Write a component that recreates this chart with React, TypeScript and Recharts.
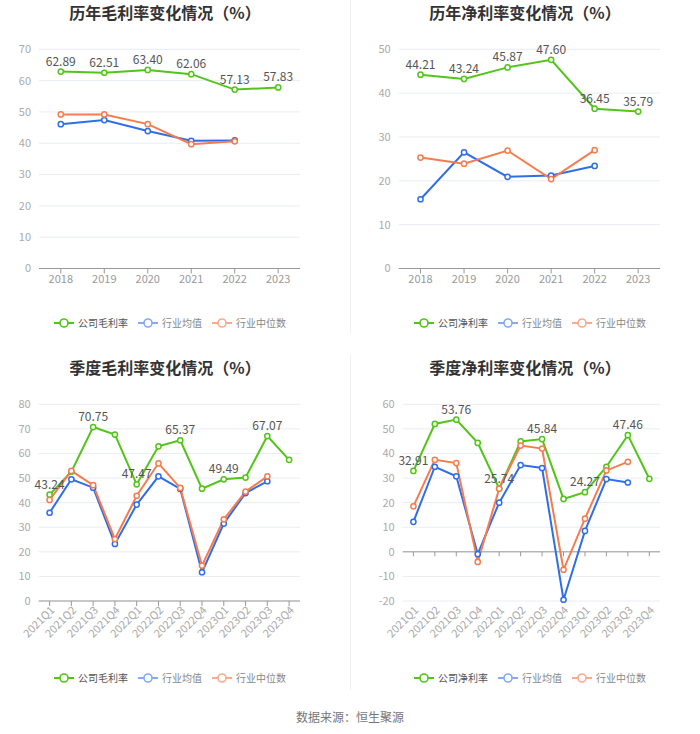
import React from 'react';
import { LineChart, Line, XAxis, YAxis, CartesianGrid, ReferenceLine, LabelList } from 'recharts';

const years = ['2018', '2019', '2020', '2021', '2022', '2023'];
const yearGrossCompany = [62.89, 62.51, 63.4, 62.06, 57.13, 57.83];
const yearGrossAvg = [46.1, 47.4, 43.9, 40.8, 40.9, null];
const yearGrossMedian = [49.2, 49.2, 46.1, 39.7, 40.6, null];

const yearNetCompany = [44.21, 43.24, 45.87, 47.6, 36.45, 35.79];
const yearNetAvg = [15.8, 26.5, 20.9, 21.2, 23.4, null];
const yearNetMedian = [25.3, 23.9, 26.9, 20.4, 27.0, null];

const quarters = ['2021Q1', '2021Q2', '2021Q3', '2021Q4', '2022Q1', '2022Q2', '2022Q3', '2022Q4', '2023Q1', '2023Q2', '2023Q3', '2023Q4'];
const qGrossCompany = [43.24, 52.6, 70.75, 67.7, 47.47, 62.9, 65.37, 45.7, 49.49, 50.2, 67.07, 57.4];
const qGrossAvg = [35.9, 49.5, 46.1, 23.2, 39.2, 50.7, 45.6, 11.7, 31.5, 43.9, 48.7, null];
const qGrossMedian = [41.1, 52.9, 47.1, 25.2, 42.8, 56.0, 46.0, 14.4, 33.2, 44.5, 50.7, null];

const qNetCompany = [32.91, 52.0, 53.76, 44.3, 25.74, 44.9, 45.84, 21.5, 24.27, 34.6, 47.46, 29.7];
const qNetAvg = [12.2, 34.6, 30.7, -0.9, 20.0, 35.3, 34.1, -19.5, 8.5, 29.6, 28.2, null];
const qNetMedian = [18.5, 37.4, 36.1, -4.1, 25.7, 43.2, 42.0, -7.3, 13.5, 33.1, 36.6, null];

const ticksYearGross = [0, 10, 20, 30, 40, 50, 60, 70];
const ticksYearNet = [0, 10, 20, 30, 40, 50];
const ticksQGross = [0, 10, 20, 30, 40, 50, 60, 70, 80];
const ticksQNet = [-20, -10, 0, 10, 20, 30, 40, 50, 60];

const GREEN = '#52C41A';
const BLUE = '#2F6EE8';
const ORANGE = '#F77C4D';
const BLUE_LIGHT = '#85A9F4';
const ORANGE_LIGHT = '#F9AA8C';
const FONT = '"Noto Sans CJK SC", "Noto Sans", sans-serif';

function buildRows(cats: string[], company: (number | null)[], avg: (number | null)[], median: (number | null)[], every: number) {
  return cats.map((c, i) => ({
    name: c,
    company: company[i],
    avg: avg[i],
    median: median[i],
    companyLabel: i % every === 0 ? company[i] : null,
  }));
}

const fmt = (v: any) => (v == null || v === '' ? '' : Number(v).toFixed(2));

const RotTick = (props: any) => {
  const { x, y, payload } = props;
  return (
    <text x={x} y={y} transform={`rotate(-45 ${x} ${y})`} textAnchor="end" fontSize={11} fill="#aaa" dy={6} dx={2}>
      {payload.value}
    </text>
  );
};

function LegendIcon({ color }: { color: string }) {
  return (
    <svg width={20} height={10} style={{ display: 'block' }}>
      <line x1={0} y1={5} x2={20} y2={5} stroke={color} strokeWidth={2} />
      <circle cx={10} cy={5} r={4} fill="#fff" stroke={color} strokeWidth={1.6} />
    </svg>
  );
}

function Legend({ left, width, top, companyName }: { left: number; width: number; top: number; companyName: string }) {
  const items = [
    { name: companyName, color: GREEN, text: '#555' },
    { name: '行业均值', color: BLUE_LIGHT, text: '#888' },
    { name: '行业中位数', color: ORANGE_LIGHT, text: '#888' },
  ];
  return (
    <div style={{ position: 'absolute', left, width, top, height: 14, display: 'flex', justifyContent: 'center', alignItems: 'center', gap: 10 }}>
      {items.map((it) => (
        <div key={it.name} style={{ display: 'flex', alignItems: 'center', gap: 4 }}>
          <LegendIcon color={it.color} />
          <span style={{ fontSize: 10, color: it.text, lineHeight: '14px', whiteSpace: 'nowrap' }}>{it.name}</span>
        </div>
      ))}
    </div>
  );
}

type PanelProps = {
  left: number;
  top: number;
  width: number;
  height: number;
  rows: any[];
  domain: [number, number];
  ticks: number[];
  yAxisWidth: number;
  marginRight: number;
  marginTop: number;
  marginBottom: number;
  xAxisHeight: number;
  pad: number;
  rotate?: boolean;
  zeroAxis?: boolean;
  cats: string[];
};

function Panel(p: PanelProps) {
  return (
    <div style={{ position: 'absolute', left: p.left, top: p.top }}>
      <LineChart
        width={p.width}
        height={p.height}
        data={p.rows}
        margin={{ top: p.marginTop, right: p.marginRight, left: 0, bottom: p.marginBottom }}
      >
        <CartesianGrid vertical={false} stroke="#E8ECF4" strokeWidth={1} />
        <XAxis
          dataKey="name"
          height={p.xAxisHeight}
          padding={{ left: p.pad, right: p.pad }}
          interval={0}
          axisLine={p.zeroAxis ? false : { stroke: '#999' }}
          tickLine={p.zeroAxis ? false : { stroke: '#999' }}
          tickSize={5}
          tick={p.rotate ? <RotTick /> : { fontSize: 11, fill: '#999' }}
        />
        <YAxis
          width={p.yAxisWidth}
          domain={p.domain}
          ticks={p.ticks}
          interval={0}
          axisLine={false}
          tickLine={false}
          tick={{ fontSize: 11, fill: '#aaa' }}
        />
        {p.zeroAxis && <ReferenceLine y={0} stroke="#999" strokeWidth={1} />}
        {p.zeroAxis &&
          p.cats.map((c) => (
            <ReferenceLine
              key={c}
              segment={[
                { x: c, y: 0 },
                { x: c, y: -1.8 },
              ]}
              stroke="#999"
              strokeWidth={1}
            />
          ))}
        <Line
          type="linear"
          dataKey="company"
          stroke={GREEN}
          strokeWidth={2}
          dot={{ r: 2.6, fill: '#fff', stroke: GREEN, strokeWidth: 1.5 }}
          activeDot={false}
          isAnimationActive={false}
        >
          <LabelList dataKey="companyLabel" position="top" offset={6} fontSize={12} fill="#555" formatter={fmt} />
        </Line>
        <Line
          type="linear"
          dataKey="avg"
          stroke={BLUE}
          strokeWidth={2}
          dot={{ r: 2.6, fill: '#fff', stroke: BLUE, strokeWidth: 1.5 }}
          activeDot={false}
          isAnimationActive={false}
        />
        <Line
          type="linear"
          dataKey="median"
          stroke={ORANGE}
          strokeWidth={2}
          dot={{ r: 2.6, fill: '#fff', stroke: ORANGE, strokeWidth: 1.5 }}
          activeDot={false}
          isAnimationActive={false}
        />
      </LineChart>
    </div>
  );
}

function Title({ left, width, top, text }: { left: number; width: number; top: number; text: string }) {
  return (
    <div style={{ position: 'absolute', left, width, top, textAlign: 'center', fontSize: 16, fontWeight: 'bold', color: '#333', lineHeight: '22px' }}>
      {text}
    </div>
  );
}

export default function App() {
  const rowsYG = buildRows(years, yearGrossCompany, yearGrossAvg, yearGrossMedian, 1);
  const rowsYN = buildRows(years, yearNetCompany, yearNetAvg, yearNetMedian, 1);
  const rowsQG = buildRows(quarters, qGrossCompany, qGrossAvg, qGrossMedian, 2);
  const rowsQN = buildRows(quarters, qNetCompany, qNetAvg, qNetMedian, 2);

  return (
    <div style={{ position: 'absolute', left: 0, top: 0, width: 700, height: 734, background: '#fff', fontFamily: FONT, overflow: 'hidden' }}>
      <div style={{ position: 'absolute', left: 350, top: 0, width: 1, height: 333, background: '#eee' }} />
      <div style={{ position: 'absolute', left: 350, top: 355, width: 1, height: 335, background: '#eee' }} />

      <Title left={0} width={330} top={1} text="历年毛利率变化情况（%）" />
      <Title left={350} width={350} top={1} text="历年净利率变化情况（%）" />
      <Title left={0} width={330} top={356} text="季度毛利率变化情况（%）" />
      <Title left={350} width={350} top={356} text="季度净利率变化情况（%）" />

      <Panel
        left={0} top={0} width={350} height={300} rows={rowsYG} cats={years}
        domain={[0, 70]} ticks={ticksYearGross}
        yAxisWidth={39} marginRight={50} marginTop={49.3} marginBottom={1.5} xAxisHeight={30} pad={21.8}
      />
      <Panel
        left={350} top={0} width={350} height={300} rows={rowsYN} cats={years}
        domain={[0, 50]} ticks={ticksYearNet}
        yAxisWidth={48.7} marginRight={40} marginTop={49.3} marginBottom={1.5} xAxisHeight={30} pad={21.8}
      />
      <Panel
        left={0} top={340} width={350} height={320} rows={rowsQG} cats={quarters}
        domain={[0, 80]} ticks={ticksQGross}
        yAxisWidth={38.7} marginRight={50} marginTop={64.3} marginBottom={14} xAxisHeight={45} pad={10.9} rotate
      />
      <Panel
        left={350} top={340} width={350} height={320} rows={rowsQN} cats={quarters}
        domain={[-20, 60]} ticks={ticksQNet}
        yAxisWidth={52.7} marginRight={40} marginTop={64.3} marginBottom={14} xAxisHeight={45} pad={10.7} rotate zeroAxis
      />

      <Legend left={0} width={340} top={316} companyName="公司毛利率" />
      <Legend left={350} width={360} top={316} companyName="公司净利率" />
      <Legend left={0} width={340} top={671} companyName="公司毛利率" />
      <Legend left={350} width={360} top={671} companyName="公司净利率" />

      <div style={{ position: 'absolute', left: 0, width: 700, top: 708, textAlign: 'center', fontSize: 12, color: '#777', lineHeight: '18px' }}>
        数据来源：恒生聚源
      </div>
    </div>
  );
}
